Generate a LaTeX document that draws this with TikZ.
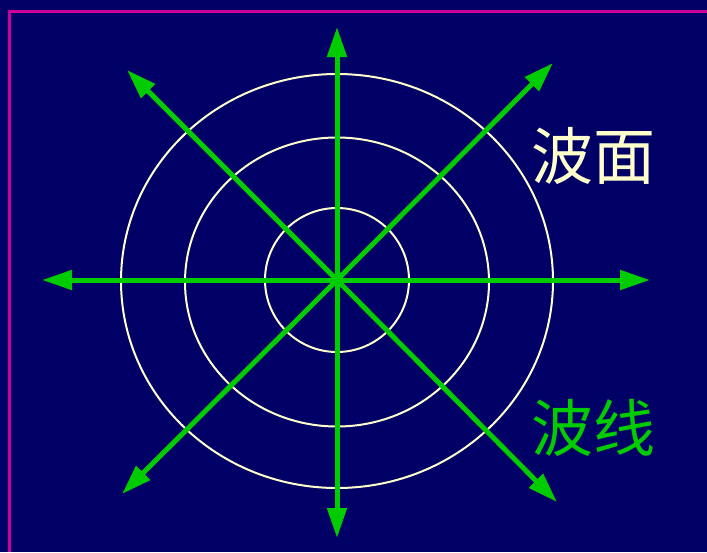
\documentclass[tikz,border=0pt]{standalone}
\usepackage{fontspec}
\newfontfamily\cjk{Noto Sans CJK SC}
\usetikzlibrary{arrows.meta}
\definecolor{bgblue}{HTML}{000066}
\definecolor{rayg}{HTML}{00CC00}
\definecolor{wavec}{HTML}{FFFFCC}
\definecolor{frame}{HTML}{CC0099}
\begin{document}
\begin{tikzpicture}[x=1pt,y=-1pt,
  ray/.style={rayg,line width=5pt,-{Triangle[length=30pt,width=19pt]}},
  front/.style={wavec,line width=2pt},
  lbl/.style={font=\cjk\fontsize{62}{64}\selectfont,inner sep=0pt}]
\fill[bgblue] (0,0) rectangle (707,552);
\useasboundingbox (0,0) rectangle (707,552);
\draw[frame,line width=3pt] (9.5,552) -- (9.5,11) -- (707,11);
\coordinate (c) at (337,280);
\draw[front] (c) ellipse [x radius=72, y radius=72];
\draw[front] (337,282) ellipse [x radius=152, y radius=144.5];
\draw[front] (337,281) ellipse [x radius=216, y radius=207];
\coordinate (n) at (337,27);
\coordinate (s) at (337,538);
\coordinate (w) at (42,280);
\coordinate (e) at (650,280);
\coordinate (ne) at (553,63);
\coordinate (nw) at (127,70);
\coordinate (se) at (557,502);
\coordinate (sw) at (122,494);
\foreach \t in {n,s,w,e,ne,nw,se,sw} \draw[ray] (c) -- (\t);
\node[lbl,text=wavec] (wf) at (593,156) {波面};
\node[lbl,text=rayg] (wl) at (593,428) {波线};
\end{tikzpicture}
\end{document}
